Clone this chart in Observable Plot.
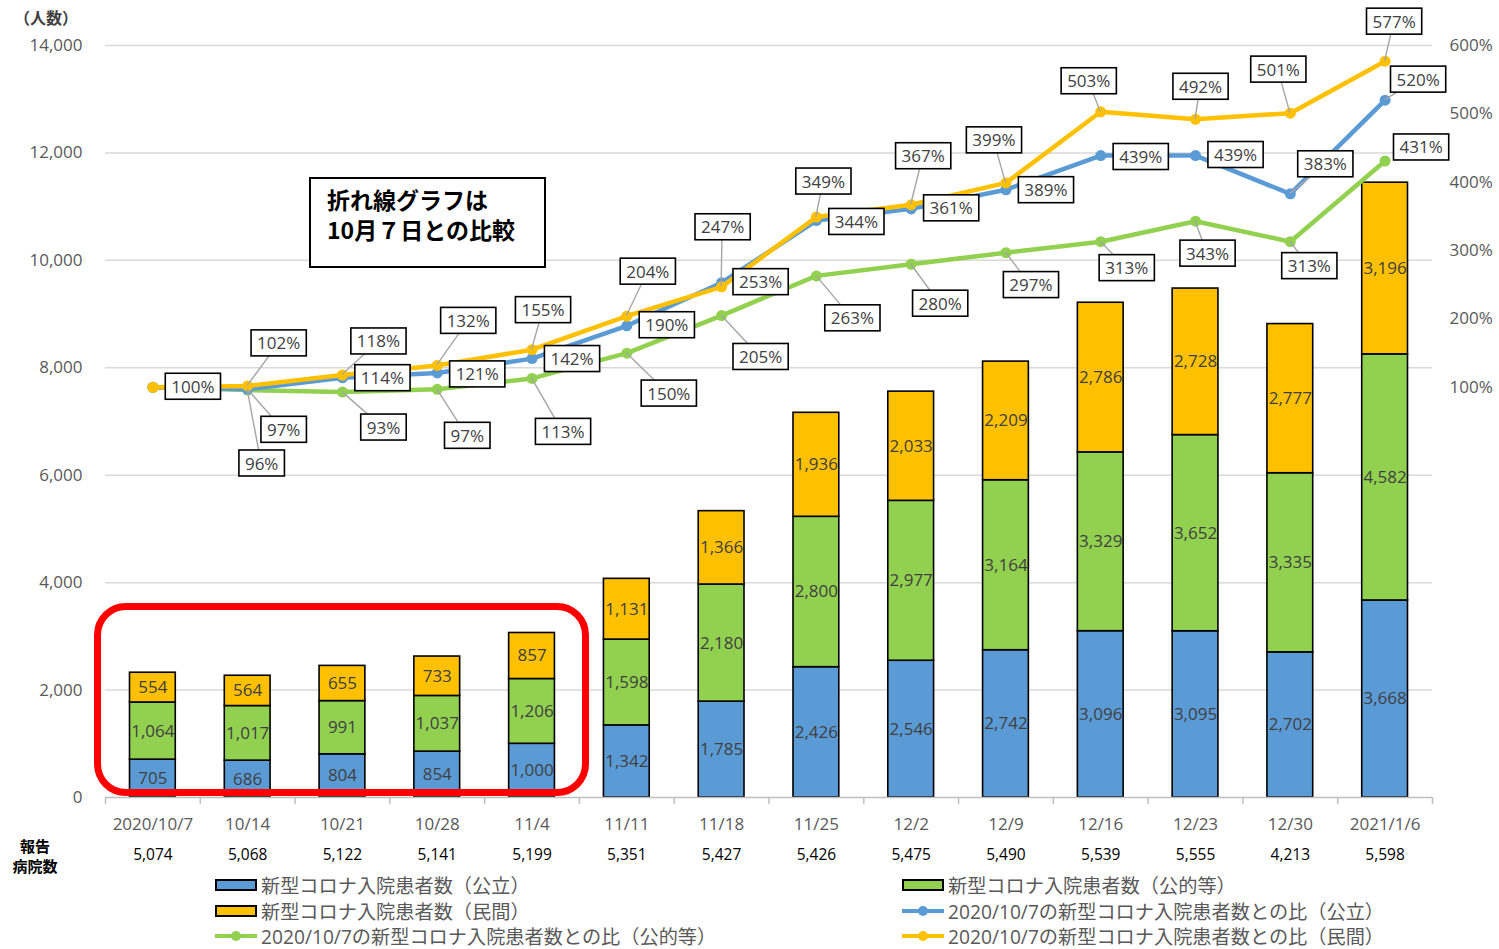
<!DOCTYPE html>
<html>
<head>
<meta charset="utf-8">
<script src="https://cdn.jsdelivr.net/npm/d3@7"></script>
<script src="https://cdn.jsdelivr.net/npm/@observablehq/plot@0.6"></script>
<style>
  html, body { margin: 0; padding: 0; background: #fff; }
  #wrap { position: relative; width: 1499px; height: 949px; overflow: hidden;
          font-family: "Open Sans", "Noto Sans CJK JP", sans-serif; }
  #chart { position: absolute; left: 0; top: 0; }
  .abs { position: absolute; }
  #unit { left: 14px; top: 5px; font: bold 16px "Noto Sans CJK JP", sans-serif; color: #404040; }
  .hosp { left: 0; width: 70px; text-align: center; font: bold 15px/18px "Noto Sans CJK JP", sans-serif; color: #000; }
  #note { left: 309px; top: 177px; width: 237px; height: 91px; box-sizing: border-box;
          border: 2px solid #000; background: #fff; padding: 5px 0 0 16px;
          font: bold 23px/30px "Noto Sans CJK JP", sans-serif; color: #000; white-space: pre; }
  #redbox { left: 94px; top: 603px; width: 495px; height: 193px; box-sizing: border-box;
            border: 7px solid #ff0000; border-radius: 32px; }
  .lg { position: absolute; height: 24px; display: flex; align-items: center;
        font: 19.2px "Open Sans", "Noto Sans CJK JP", sans-serif; color: #595959; white-space: nowrap; }
  .lg svg { margin-right: 4px; }
</style>
</head>
<body>
<div id="wrap">
  <div id="chart"></div>
  <div id="legend"></div>
  <div id="unit" class="abs">（人数）</div>
  <div class="abs hosp" style="top:837px">報告</div>
  <div class="abs hosp" style="top:857px">病院数</div>
  <div id="note" class="abs">折れ線グラフは
10月７日との比較</div>
  <div id="redbox" class="abs"></div>
</div>
<script>
// ---------------- data ----------------
const categories = ["2020/10/7","10/14","10/21","10/28","11/4","11/11","11/18","11/25","12/2","12/9","12/16","12/23","12/30","2021/1/6"];
const hospitalCounts = ["5,074","5,068","5,122","5,141","5,199","5,351","5,427","5,426","5,475","5,490","5,539","5,555","4,213","5,598"];
const publicPatients = [705,686,804,854,1000,1342,1785,2426,2546,2742,3096,3095,2702,3668];
const quasiPublicPatients = [1064,1017,991,1037,1206,1598,2180,2800,2977,3164,3329,3652,3335,4582];
const privatePatients = [554,564,655,733,857,1131,1366,1936,2033,2209,2786,2728,2777,3196];
const publicRatio = [100,97,114,121,142,190,253,344,361,389,439,439,383,520];
const quasiPublicRatio = [100,96,93,97,113,150,205,263,280,297,313,343,313,431];
const privateRatio = [100,102,118,132,155,204,247,349,367,399,503,492,501,577];
const leftTicks = [0,2000,4000,6000,8000,10000,12000,14000];
const rightTicks = [100,200,300,400,500,600];
const rightDomain = [-500, 600];
const barSeriesNames = ["新型コロナ入院患者数（公立）","新型コロナ入院患者数（公的等）","新型コロナ入院患者数（民間）"];
const lineSeriesNames = ["2020/10/7の新型コロナ入院患者数との比（公立）","2020/10/7の新型コロナ入院患者数との比（公的等）","2020/10/7の新型コロナ入院患者数との比（民間）"];

// ---------------- style / layout ----------------
const BLUE = "#5B9BD5", GREEN = "#92D050", ORANGE = "#FFC000";
const barColors = [BLUE, GREEN, ORANGE];
const W = 1499, H = 872, ML = 105, MR = 67, MT = 45, MB = 75;
const BW = (W - ML - MR) / categories.length;
// label offsets (px) from each line point: [dx, dy]; null = no label
const publicLabelOffsets = [null,[36,41],[40,1],[40,2],[40,1],[40,0],[39,0],[40,2],[40,0],[40,1],[40,2],[40,0],[35,-29],[33,-20]];
const quasiLabelOffsets = [null,[14,74],[41,36],[30,47],[31,54],[42,41],[39,42],[36,43],[29,40],[25,33],[26,27],[12,33],[19,25],[36,-13]];
const privateLabelOffsets = [[40,0],[31,-42],[36,-33],[31,-44],[11,-39],[21,-44],[1,-59],[7,-35],[12,-48],[-12,-42],[-12,-30],[5,-32],[-12,-43],[9,-39]];

const yMax = leftTicks[leftTicks.length - 1];
const pctToY = p => (p - rightDomain[0]) * yMax / (rightDomain[1] - rightDomain[0]);
const yToPct = v => v * (rightDomain[1] - rightDomain[0]) / yMax + rightDomain[0];
const fmt = d3.format(",");

const barValues = [publicPatients, quasiPublicPatients, privatePatients];
const barData = [];
barSeriesNames.forEach((s, k) => categories.forEach((c, i) => barData.push({cat: c, series: s, v: barValues[k][i]})));

// draw order: green, blue, orange (orange on top)
const lineSpecs = [
  {ratio: quasiPublicRatio, color: GREEN, offsets: quasiLabelOffsets},
  {ratio: publicRatio, color: BLUE, offsets: publicLabelOffsets},
  {ratio: privateRatio, color: ORANGE, offsets: privateLabelOffsets}
];

const marks = [];
marks.push(Plot.ruleY(leftTicks.slice(1), {stroke: "#d9d9d9", strokeWidth: 1.5}));
marks.push(Plot.barY(barData, {x: "cat", y: "v", fill: "series", order: barSeriesNames, z: "series",
  stroke: "#000", strokeWidth: 1.6, insetLeft: 24.5, insetRight: 24.5}));
marks.push(Plot.text(barData, Plot.stackY({x: "cat", y: "v", z: "series", order: barSeriesNames,
  text: d => fmt(d.v), fill: "#404040", fontSize: 17})));
marks.push(Plot.ruleY([0], {stroke: "#bfbfbf", strokeWidth: 1.5}));
marks.push(Plot.ruleX(categories, {x: d => d, y1: 0, y2: 0, insetBottom: -7, dx: -BW / 2, stroke: "#bfbfbf", strokeWidth: 1.5}));
marks.push(Plot.ruleX(categories.slice(-1), {x: d => d, y1: 0, y2: 0, insetBottom: -7, dx: BW / 2, stroke: "#bfbfbf", strokeWidth: 1.5}));
marks.push(Plot.axisY(leftTicks, {anchor: "left", tickSize: 0, tickPadding: 23, tickFormat: fmt, fontSize: 17, color: "#595959", label: null}));
marks.push(Plot.axisY(rightTicks.map(pctToY), {anchor: "right", tickSize: 0, tickPadding: 17,
  tickFormat: v => Math.round(yToPct(v)) + "%", fontSize: 17, color: "#595959", label: null}));
marks.push(Plot.axisX({anchor: "bottom", tickSize: 0, tickPadding: 20, fontSize: 17, color: "#595959", label: null}));
marks.push(Plot.axisX({anchor: "bottom", tickSize: 0, tickPadding: 51, fontSize: 15.5, color: "#000", label: null,
  tickFormat: d => hospitalCounts[categories.indexOf(d)]}));

const labelSpecs = [];
for (const s of lineSpecs) {
  const pts = categories.map((c, i) => ({cat: c, v: pctToY(s.ratio[i]), p: s.ratio[i]}));
  marks.push(Plot.line(pts, {x: "cat", y: "v", stroke: s.color, strokeWidth: 4.5}));
  marks.push(Plot.dot(pts, {x: "cat", y: "v", r: 5.5, fill: s.color}));
  pts.forEach((d, i) => { if (s.offsets[i]) labelSpecs.push({d, dx: s.offsets[i][0], dy: s.offsets[i][1]}); });
}
for (const L of labelSpecs) {
  marks.push(Plot.text([L.d], {x: "cat", y: "v", text: d => d.p + "%", dx: L.dx, dy: L.dy,
    fontSize: 17, fill: "#404040", ariaDescription: "pct-label"}));
}

const plot = Plot.plot({
  width: W, height: H,
  marginLeft: ML, marginRight: MR, marginTop: MT, marginBottom: MB,
  x: {domain: categories, padding: 0, round: false, label: null},
  y: {domain: [0, yMax], label: null},
  color: {domain: barSeriesNames, range: barColors},
  style: {fontFamily: '"Open Sans","Noto Sans CJK JP",sans-serif', background: "transparent", overflow: "visible"},
  marks
});
document.getElementById("chart").append(plot);

// ---------- label boxes and leader lines ----------
const xs = plot.scale("x"), ys = plot.scale("y");
const bw = xs.bandwidth || 0;
const groups = plot.querySelectorAll('g[aria-description="pct-label"]');
const ns = "http://www.w3.org/2000/svg";
if (groups.length) {
  const leader = document.createElementNS(ns, "g");
  groups[0].parentNode.insertBefore(leader, groups[0]);
  for (const L of labelSpecs) {
    if (Math.abs(L.dy) < 16) continue;
    const px = xs.apply(L.d.cat) + bw / 2, py = ys.apply(L.d.v);
    const ln = document.createElementNS(ns, "line");
    ln.setAttribute("x1", px); ln.setAttribute("y1", py);
    ln.setAttribute("x2", px + L.dx); ln.setAttribute("y2", py + L.dy);
    ln.setAttribute("stroke", "#a6a6a6"); ln.setAttribute("stroke-width", 1.4);
    leader.appendChild(ln);
  }
  groups.forEach(g => {
    const t = g.querySelector("text");
    if (!t) return;
    const bb = t.getBBox();
    const r = document.createElementNS(ns, "rect");
    const cy = bb.y + bb.height / 2;
    r.setAttribute("x", bb.x - 6); r.setAttribute("y", cy - 13);
    r.setAttribute("width", bb.width + 12); r.setAttribute("height", 26);
    r.setAttribute("fill", "#fff"); r.setAttribute("stroke", "#000"); r.setAttribute("stroke-width", 1.6);
    const tr = t.getAttribute("transform");
    if (tr) r.setAttribute("transform", tr);
    t.parentNode.insertBefore(r, t);
  });
}

// ---------- legend ----------
const legend = document.getElementById("legend");
const legendItems = [
  {name: barSeriesNames[0], kind: "bar", color: BLUE, x: 215, y: 885},
  {name: barSeriesNames[2], kind: "bar", color: ORANGE, x: 215, y: 910.5},
  {name: lineSeriesNames[1], kind: "line", color: GREEN, x: 215, y: 936},
  {name: barSeriesNames[1], kind: "bar", color: GREEN, x: 902, y: 885},
  {name: lineSeriesNames[0], kind: "line", color: BLUE, x: 902, y: 910.5},
  {name: lineSeriesNames[2], kind: "line", color: ORANGE, x: 902, y: 936}
];
for (const it of legendItems) {
  const div = document.createElement("div");
  div.className = "lg";
  div.style.left = it.x + "px";
  div.style.top = (it.y - 12) + "px";
  const sw = it.kind === "bar"
    ? `<svg width="42" height="14"><rect x="1" y="2" width="40" height="10" fill="${it.color}" stroke="#000" stroke-width="2"/></svg>`
    : `<svg width="42" height="14"><line x1="0" y1="7" x2="42" y2="7" stroke="${it.color}" stroke-width="4"/><circle cx="21" cy="7" r="5" fill="${it.color}"/></svg>`;
  div.innerHTML = sw + `<span>${it.name}</span>`;
  legend.appendChild(div);
}
</script>
</body>
</html>
